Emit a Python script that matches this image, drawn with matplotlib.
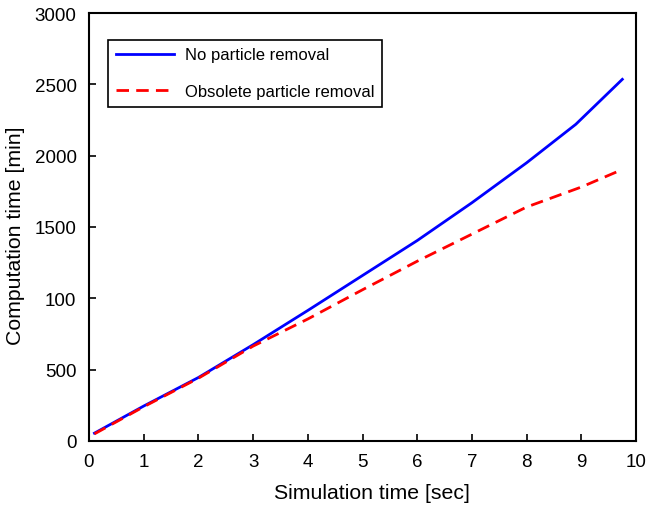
import matplotlib
matplotlib.use("Agg")
import matplotlib.pyplot as plt

plt.rcParams['font.family'] = ['Liberation Sans', 'DejaVu Sans']

x_blue = [0.1, 1, 2, 3, 4, 5, 6, 7, 8, 8.9, 9.75]
y_blue = [55, 245, 445, 675, 915, 1160, 1405, 1670, 1950, 2220, 2535]
x_red = [0.1, 1, 2, 3, 4, 5, 6, 7, 8, 9, 9.7]
y_red = [50, 240, 440, 665, 855, 1060, 1260, 1450, 1640, 1780, 1895]

xticks = list(range(0, 11))
yticks = [0, 500, 1000, 1500, 2000, 2500, 3000]
yticklabels = ['0', '500', '100', '1500', '2000', '2500', '3000']

fig = plt.figure(figsize=(6.49, 5.06), dpi=100)
ax = fig.add_axes([89/649, 1-442/506, (636-89)/649, (442-14)/506])

ax.plot(x_blue, y_blue, color='#0000ff', lw=2.0, label='No particle removal')
ax.plot(x_red, y_red, color='#ff0000', lw=2.0, dashes=(4.5, 2.6), label='Obsolete particle removal')

ax.set_xlim(0, 10)
ax.set_ylim(0, 3000)
ax.set_xticks(xticks)
ax.set_yticks(yticks)
ax.set_yticklabels(yticklabels)
ax.tick_params(direction='in', length=5, width=1.2, labelsize=13.5, top=False, right=False, pad=9)
for s in ax.spines.values():
    s.set_linewidth(1.5)
ax.set_xlabel('Simulation time [sec]', fontsize=15.3)
ax.xaxis.set_label_coords(0.517, -0.097)
ax.set_ylabel('Computation time [min]', fontsize=15.3)
ax.yaxis.set_label_coords(-0.117, 0.483)

leg = ax.legend(loc='upper left', bbox_to_anchor=(0.035, 0.937), fontsize=12, fancybox=False,
                edgecolor='black', framealpha=1, handlelength=3.5, handletextpad=0.65,
                borderpad=0.45, labelspacing=1.3, borderaxespad=0.0)
leg.get_frame().set_linewidth(1.2)

fig.savefig('out.png', dpi=100)
